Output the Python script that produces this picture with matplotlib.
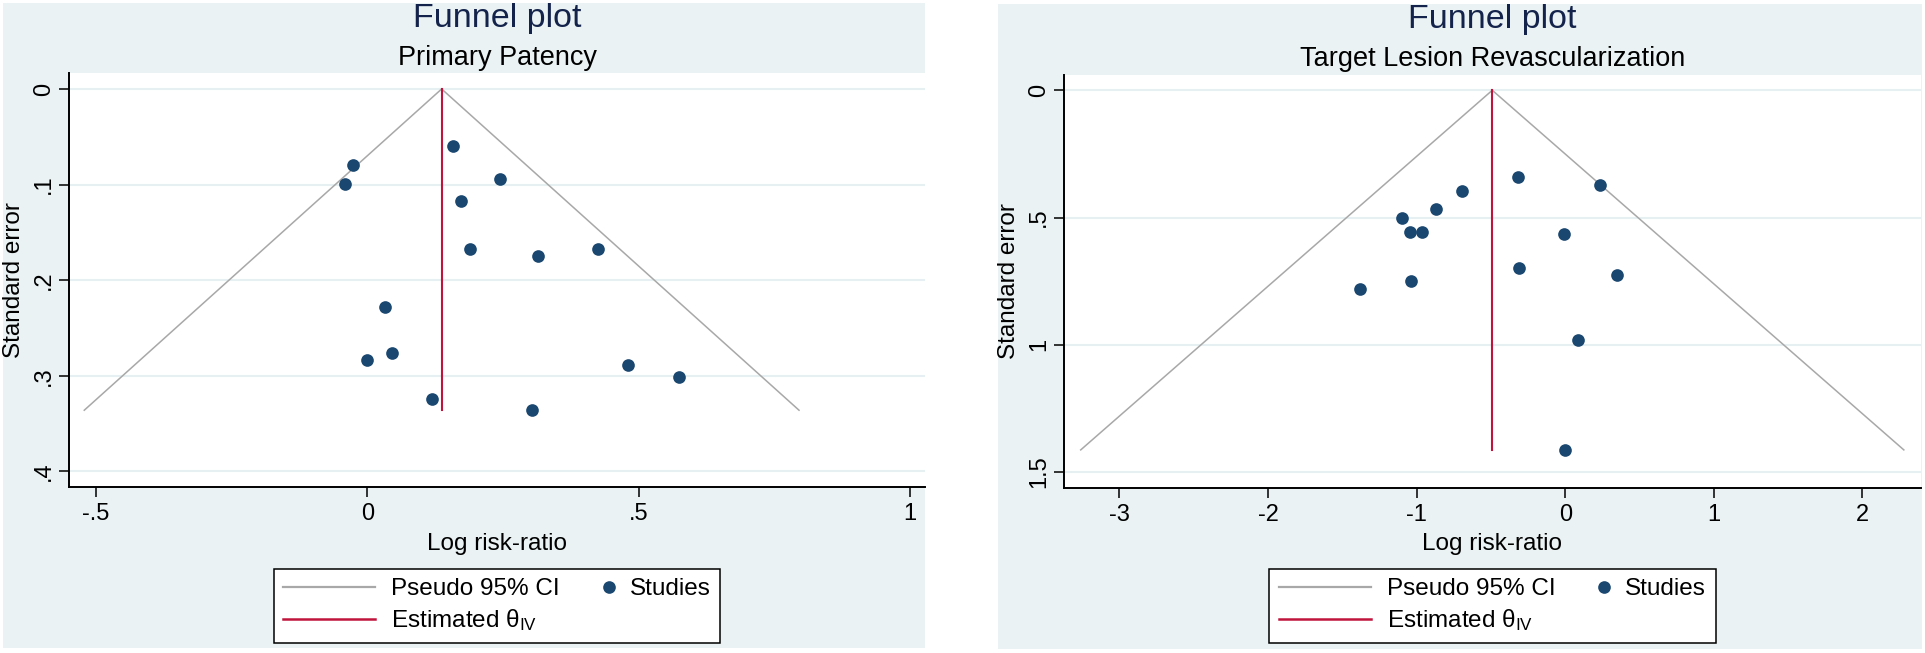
import matplotlib
matplotlib.use("Agg")
import matplotlib.pyplot as plt
from matplotlib.lines import Line2D
from matplotlib.patches import Rectangle
from matplotlib.legend_handler import HandlerBase

# ---------------- data ----------------
pp_title = "Funnel plot"
pp_subtitle = "Primary Patency"
pp_logrr = [-0.027, -0.041, 0.158, 0.173, 0.190, 0.033, 0.245, 0.314, 0.425,
            0.000, 0.046, 0.119, 0.304, 0.481, 0.575]
pp_se = [0.079, 0.099, 0.060, 0.117, 0.167, 0.228, 0.094, 0.175, 0.167,
         0.283, 0.276, 0.324, 0.336, 0.289, 0.301]
pp_theta = 0.137
pp_xticks = [-0.5, 0, 0.5, 1]
pp_xticklabels = ["-.5", "0", ".5", "1"]
pp_yticks = [0, 0.1, 0.2, 0.3, 0.4]
pp_yticklabels = ["0", ".1", ".2", ".3", ".4"]

tlr_title = "Funnel plot"
tlr_subtitle = "Target Lesion Revascularization"
tlr_logrr = [-1.101, -1.045, -0.962, -0.870, -1.038, -1.381, -0.693, -0.320,
             0.236, -0.009, -0.312, 0.350, 0.088, 0.000]
tlr_se = [0.503, 0.558, 0.555, 0.466, 0.748, 0.781, 0.394, 0.339,
          0.371, 0.563, 0.700, 0.724, 0.980, 1.413]
tlr_theta = -0.491
tlr_xticks = [-3, -2, -1, 0, 1, 2]
tlr_xticklabels = ["-3", "-2", "-1", "0", "1", "2"]
tlr_yticks = [0, 0.5, 1, 1.5]
tlr_yticklabels = ["0", ".5", "1", "1.5"]

xlabel = "Log risk-ratio"
ylabel = "Standard error"
leg_labels = ["Pseudo 95% CI", "Estimated \u03b8$_{\\mathrm{IV}}$", "Studies"]
Z = 1.96

# ---------------- style ----------------
BG = "#EAF2F3"
GRID = "#E6EFF1"
NAVY = "#1A476F"
RED = "#C0143C"
GRAY = "#A8A8A8"
TITLE = "#14234B"

plt.rcParams["font.family"] = ["Liberation Sans", "DejaVu Sans"]
plt.rcParams["mathtext.fontset"] = "custom"
plt.rcParams["mathtext.rm"] = "Liberation Sans"
plt.rcParams["mathtext.it"] = "Liberation Sans:italic"

W, H, DPI = 1925, 653, 100
fig = plt.figure(figsize=(W / DPI, H / DPI), dpi=DPI, facecolor="white")


def fx(px):
    return px / W


def fy(py):
    return 1 - py / H


class RightMarkerHandler(HandlerBase):
    def create_artists(self, legend, orig_handle, xdescent, ydescent, width,
                       height, fontsize, trans):
        x = width - 3.6
        y = (height - ydescent) / 2.0
        ln = Line2D([x], [y], linestyle="none", marker="o", markersize=9.1,
                    color=NAVY, markeredgewidth=0)
        ln.set_transform(trans)
        return [ln]


def panel(bg_box, ax_box, xlim, ylim, logrr, se, theta, xticks, xtl, yticks,
          ytl, title, subtitle, title_y, sub_y):
    x0, y0, x1, y1 = bg_box
    fig.patches.append(Rectangle((fx(x0), fy(y1)), fx(x1) - fx(x0),
                                 fy(y0) - fy(y1), transform=fig.transFigure,
                                 facecolor=BG, edgecolor="none", zorder=-10))
    ax_l, ax_t, ax_r, ax_b = ax_box
    ax = fig.add_axes([fx(ax_l), fy(ax_b), fx(ax_r - ax_l), (ax_b - ax_t) / H])
    ax.set_zorder(1)
    ax.set_facecolor("white")
    ax.set_xlim(*xlim)
    ax.set_ylim(*ylim)

    se_max = max(se)
    ax.plot([theta - Z * se_max, theta, theta + Z * se_max], [se_max, 0, se_max],
            color=GRAY, lw=1.1, zorder=2)
    ax.plot([theta, theta], [0, se_max], color=RED, lw=1.5, zorder=2)
    ax.scatter(logrr, se, s=83, color=NAVY, linewidths=0, zorder=3)

    ax.set_xticks(xticks)
    ax.set_xticklabels(xtl)
    ax.set_yticks(yticks)
    ax.set_yticklabels(ytl)
    ax.tick_params(axis="both", direction="out", length=7.2, width=1.1,
                   labelsize=17, colors="black")
    ax.tick_params(axis="x", pad=4.3)
    ax.tick_params(axis="y", pad=2.9, labelrotation=90)
    for lbl in ax.get_yticklabels():
        lbl.set_va("center")
    ax.yaxis.grid(True, color=GRID, lw=1.5)
    ax.xaxis.grid(False)
    ax.set_axisbelow(True)
    for s in ["top", "right"]:
        ax.spines[s].set_visible(False)
    for s in ["left", "bottom"]:
        ax.spines[s].set_linewidth(1.4)
        ax.spines[s].set_color("black")

    hpx = ax_b - ax_t
    wpx = ax_r - ax_l
    ax.set_xlabel(xlabel, fontsize=17.5, va="baseline")
    ax.xaxis.set_label_coords(0.5, (ax_b - 550) / hpx)
    ax.set_ylabel(ylabel, fontsize=17.5, va="center", ha="center")
    ax.yaxis.set_label_coords(-55 / wpx, 0.5)

    cx = (ax_l + ax_r) / 2
    fig.text(fx(cx), fy(title_y), title, ha="center", va="baseline",
             fontsize=24.5, color=TITLE)
    fig.text(fx(cx), fy(sub_y), subtitle, ha="center", va="baseline",
             fontsize=19.5, color="black")

    ci_h = Line2D([], [], color=GRAY, lw=1.6)
    est_h = Line2D([], [], color=RED, lw=1.8)
    st_h = Line2D([], [], linestyle="none", marker="o", color=NAVY)
    leg = ax.legend(handles=[ci_h, est_h, st_h], labels=leg_labels, ncol=2,
                    loc="upper center",
                    bbox_to_anchor=(0.5, (ax_b - 568.5) / hpx),
                    bbox_transform=ax.transAxes, frameon=True, fancybox=False,
                    edgecolor="black", framealpha=1, facecolor="white",
                    handlelength=3.79, handletextpad=0.66, columnspacing=-1.58,
                    borderpad=0.4, labelspacing=0.3, borderaxespad=0,
                    fontsize=17.5, handler_map={st_h: RightMarkerHandler()})
    leg.get_frame().set_linewidth(1.1)
    return ax


panel((3, 3, 925, 648), (69, 73, 925, 487), (-0.5497, 1.0277), (0.4163, -0.0167),
      pp_logrr, pp_se, pp_theta, pp_xticks, pp_xticklabels, pp_yticks,
      pp_yticklabels, pp_title, pp_subtitle, 27, 65)
panel((998, 4, 1922, 649), (1064, 75, 1921, 488), (-3.373, 2.394), (1.5627, -0.060),
      tlr_logrr, tlr_se, tlr_theta, tlr_xticks, tlr_xticklabels, tlr_yticks,
      tlr_yticklabels, tlr_title, tlr_subtitle, 28, 66)

fig.savefig("out.png", dpi=DPI, facecolor="white")
